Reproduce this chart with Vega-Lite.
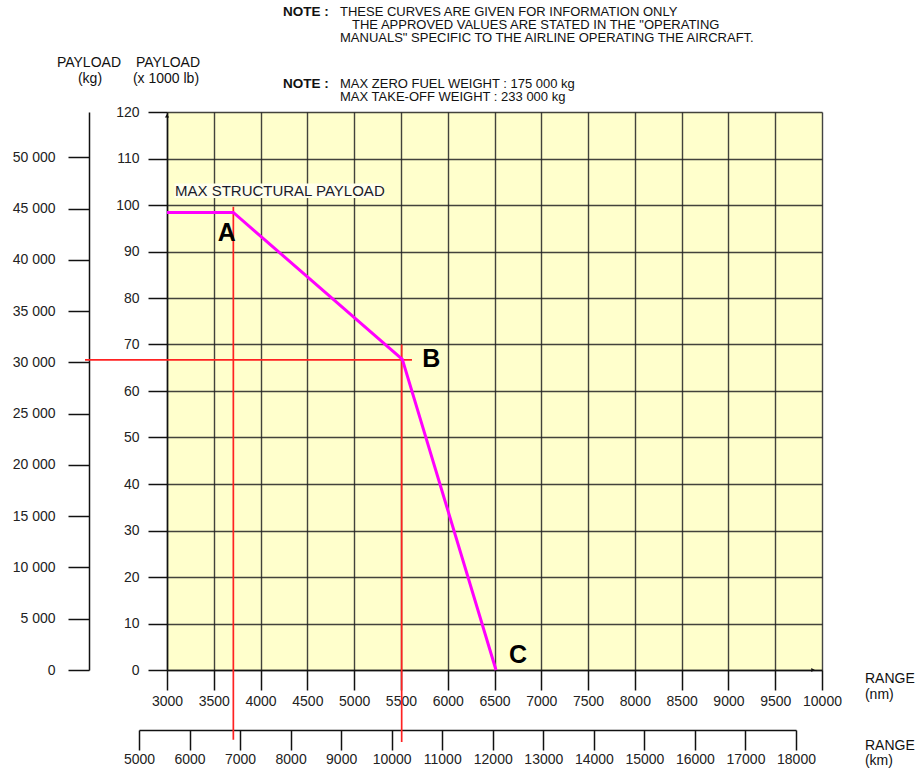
{
  "$schema": "https://vega.github.io/schema/vega-lite/v6.json",
  "width": 655,
  "height": 558,
  "autosize": {"type": "none"},
  "padding": {"left": 167, "top": 112, "right": 93, "bottom": 103},
  "background": "white",
  "config": {
    "view": {"stroke": null, "fill": "#FFFFCC"},
    "font": "Liberation Sans",
    "axis": {
      "labelFont": "Liberation Sans",
      "labelFontSize": 14,
      "labelColor": "#222222",
      "tickColor": "#111111",
      "tickWidth": 1.5,
      "domainColor": "#111111",
      "domainWidth": 1.5
    },
    "text": {"font": "Liberation Sans", "fontSize": 14, "color": "#111111"}
  },
  "datasets": {
    "payload": [
      {"nm": 3000, "klb": 98.4},
      {"nm": 3709, "klb": 98.4},
      {"nm": 5515, "klb": 66.8},
      {"nm": 6516, "klb": 0}
    ],
    "redlines": [
      {"nm": 3709, "klb": 99.6, "nm2": 3709, "klb2": -15},
      {"nm": 2124, "klb": 66.7, "nm2": 5618, "klb2": 66.7},
      {"nm": 5508, "klb": 70, "nm2": 5508, "klb2": -15.5}
    ],
    "letters": [
      {"nm": 3638, "klb": 94.0, "t": "A"},
      {"nm": 5825, "klb": 66.9, "t": "B"},
      {"nm": 6751, "klb": 3.2, "t": "C"}
    ],
    "maxText": [
      {"nm": 3085, "klb": 102.0, "t": "MAX STRUCTURAL PAYLOAD"}
    ],
    "leftText": [
      {"nm": 10459, "klb": -2.8, "t": "RANGE"},
      {"nm": 10459, "klb": -6.24, "t": "(nm)"},
      {"nm": 10459, "klb": -17.2, "t": "RANGE"},
      {"nm": 10459, "klb": -20.43, "t": "(km)"}
    ],
    "noteText": [
      {"nm": 4849, "klb": 140.54, "t": "THESE CURVES ARE GIVEN FOR INFORMATION ONLY"},
      {"nm": 4977, "klb": 137.85, "t": "THE APPROVED VALUES ARE STATED IN THE \"OPERATING"},
      {"nm": 4849, "klb": 135.16, "t": "MANUALS\" SPECIFIC TO THE AIRLINE OPERATING THE AIRCRAFT."},
      {"nm": 4849, "klb": 125.16, "t": "MAX ZERO FUEL WEIGHT : 175 000 kg"},
      {"nm": 4849, "klb": 122.47, "t": "MAX TAKE-OFF WEIGHT : 233 000 kg"}
    ],
    "notes": [
      {"nm": 4240, "klb": 140.54, "t": "NOTE :"},
      {"nm": 4240, "klb": 125.16, "t": "NOTE :"}
    ],
    "headers": [
      {"nm": 2166, "klb": 129.78, "t": "PAYLOAD"},
      {"nm": 2177, "klb": 126.24, "t": "(kg)"},
      {"nm": 3011, "klb": 129.78, "t": "PAYLOAD"},
      {"nm": 2989, "klb": 126.24, "t": "(x 1000 lb)"}
    ],
    "labelBox": [
      {"nm": 3080, "klb": 101.5, "nm2": 5300, "klb2": 104.6}
    ]
  },
  "layer": [
    {
      "data": {"name": "labelBox"},
      "mark": {"type": "rect", "fill": "#FFFFEC"},
      "encoding": {
        "x": {"field": "nm", "type": "quantitative", "scale": {"domain": [3000, 10000], "nice": false, "zero": false},
          "axis": {"orient": "bottom", "values": [3000, 3500, 4000, 4500, 5000, 5500, 6000, 6500, 7000, 7500, 8000, 8500, 9000, 9500, 10000],
            "format": "d", "grid": true, "gridColor": "#222222", "gridWidth": 1.4, "gridOpacity": 0.85,
            "tickSize": 20, "labelPadding": 4, "title": null, "labelFlush": false, "labelOverlap": false}},
        "x2": {"field": "nm2"},
        "y": {"field": "klb", "type": "quantitative", "scale": {"domain": [0, 120], "nice": false, "zero": false},
          "axis": {"orient": "left", "values": [0, 10, 20, 30, 40, 50, 60, 70, 80, 90, 100, 110, 120],
            "grid": true, "gridColor": "#222222", "gridWidth": 1.4, "gridOpacity": 0.85,
            "tickSize": 19, "labelPadding": 9, "title": null, "labelFlush": false, "labelOverlap": false}},
        "y2": {"field": "klb2"}
      }
    },
    {
      "data": {"name": "redlines"},
      "mark": {"type": "rule", "color": "#FF2222", "strokeWidth": 1.7},
      "encoding": {
        "x": {"field": "nm", "type": "quantitative", "scale": {"domain": [3000, 10000], "nice": false, "zero": false}, "axis": null},
        "x2": {"field": "nm2"},
        "y": {"field": "klb", "type": "quantitative", "scale": {"domain": [0, 120], "nice": false, "zero": false}, "axis": null},
        "y2": {"field": "klb2"}
      }
    },
    {
      "data": {"name": "payload"},
      "mark": {"type": "line", "color": "#FF00FF", "strokeWidth": 3},
      "encoding": {
        "x": {"field": "nm", "type": "quantitative", "scale": {"domain": [3000, 10000], "nice": false, "zero": false}, "axis": null},
        "y": {"field": "klb", "type": "quantitative", "scale": {"domain": [0, 120], "nice": false, "zero": false}, "axis": null}
      }
    },
    {
      "data": {"values": [{"nm": 3000, "klb": 119.2}]},
      "mark": {"type": "point", "shape": "triangle-up", "filled": true, "color": "#111111", "size": 18, "opacity": 1},
      "encoding": {
        "x": {"field": "nm", "type": "quantitative", "scale": {"domain": [3000, 10000], "nice": false, "zero": false}, "axis": null},
        "y": {"field": "klb", "type": "quantitative", "scale": {"domain": [0, 120], "nice": false, "zero": false}, "axis": null}
      }
    },
    {
      "data": {"values": [{"nm": 9905, "klb": 0}]},
      "mark": {"type": "point", "shape": "triangle-right", "filled": true, "color": "#111111", "size": 18, "opacity": 1},
      "encoding": {
        "x": {"field": "nm", "type": "quantitative", "scale": {"domain": [3000, 10000], "nice": false, "zero": false}, "axis": null},
        "y": {"field": "klb", "type": "quantitative", "scale": {"domain": [0, 120], "nice": false, "zero": false}, "axis": null}
      }
    },
    {
      "data": {"name": "letters"},
      "mark": {"type": "text", "fontSize": 25, "fontWeight": "bold", "align": "center", "baseline": "middle", "color": "#000000"},
      "encoding": {
        "x": {"field": "nm", "type": "quantitative", "scale": {"domain": [3000, 10000], "nice": false, "zero": false}, "axis": null},
        "y": {"field": "klb", "type": "quantitative", "scale": {"domain": [0, 120], "nice": false, "zero": false}, "axis": null},
        "text": {"field": "t"}
      }
    },
    {
      "data": {"name": "maxText"},
      "mark": {"type": "text", "fontSize": 15, "align": "left", "baseline": "alphabetic", "color": "#1a1a2a"},
      "encoding": {
        "x": {"field": "nm", "type": "quantitative", "scale": {"domain": [3000, 10000], "nice": false, "zero": false}, "axis": null},
        "y": {"field": "klb", "type": "quantitative", "scale": {"domain": [0, 120], "nice": false, "zero": false}, "axis": null},
        "text": {"field": "t"}
      }
    },
    {
      "data": {"name": "leftText"},
      "mark": {"type": "text", "fontSize": 14, "align": "left", "baseline": "alphabetic"},
      "encoding": {
        "x": {"field": "nm", "type": "quantitative", "scale": {"domain": [3000, 10000], "nice": false, "zero": false}, "axis": null},
        "y": {"field": "klb", "type": "quantitative", "scale": {"domain": [0, 120], "nice": false, "zero": false}, "axis": null},
        "text": {"field": "t"}
      }
    },
    {
      "data": {"name": "noteText"},
      "mark": {"type": "text", "fontSize": 13, "align": "left", "baseline": "alphabetic"},
      "encoding": {
        "x": {"field": "nm", "type": "quantitative", "scale": {"domain": [3000, 10000], "nice": false, "zero": false}, "axis": null},
        "y": {"field": "klb", "type": "quantitative", "scale": {"domain": [0, 120], "nice": false, "zero": false}, "axis": null},
        "text": {"field": "t"}
      }
    },
    {
      "data": {"name": "notes"},
      "mark": {"type": "text", "fontSize": 13.5, "fontWeight": "bold", "align": "left", "baseline": "alphabetic"},
      "encoding": {
        "x": {"field": "nm", "type": "quantitative", "scale": {"domain": [3000, 10000], "nice": false, "zero": false}, "axis": null},
        "y": {"field": "klb", "type": "quantitative", "scale": {"domain": [0, 120], "nice": false, "zero": false}, "axis": null},
        "text": {"field": "t"}
      }
    },
    {
      "data": {"name": "headers"},
      "mark": {"type": "text", "fontSize": 14, "align": "center", "baseline": "alphabetic"},
      "encoding": {
        "x": {"field": "nm", "type": "quantitative", "scale": {"domain": [3000, 10000], "nice": false, "zero": false}, "axis": null},
        "y": {"field": "klb", "type": "quantitative", "scale": {"domain": [0, 120], "nice": false, "zero": false}, "axis": null},
        "text": {"field": "t"}
      }
    },
    {
      "data": {"values": [{"km": 5000, "kg": 0}]},
      "mark": {"type": "point", "opacity": 0},
      "encoding": {
        "x": {"field": "km", "type": "quantitative",
          "scale": {"domain": [5000, 18000], "range": [-28, 629], "nice": false, "zero": false},
          "axis": {"orient": "bottom", "offset": 60, "values": [5000, 6000, 7000, 8000, 9000, 10000, 11000, 12000, 13000, 14000, 15000, 16000, 17000, 18000],
            "format": "d", "tickSize": 20, "labelPadding": 2, "grid": false, "title": null, "labelFlush": false, "labelOverlap": false}},
        "y": {"field": "kg", "type": "quantitative",
          "scale": {"domain": [0, 54431], "nice": false, "zero": false},
          "axis": {"orient": "left", "offset": 78, "values": [0, 5000, 10000, 15000, 20000, 25000, 30000, 35000, 40000, 45000, 50000],
            "labelExpr": "replace(format(datum.value, ','), ',', ' ')", "tickSize": 21, "labelPadding": 13, "grid": false, "title": null, "labelFlush": false, "labelOverlap": false}}
      }
    }
  ],
  "resolve": {"scale": {"x": "independent", "y": "independent"}}
}
